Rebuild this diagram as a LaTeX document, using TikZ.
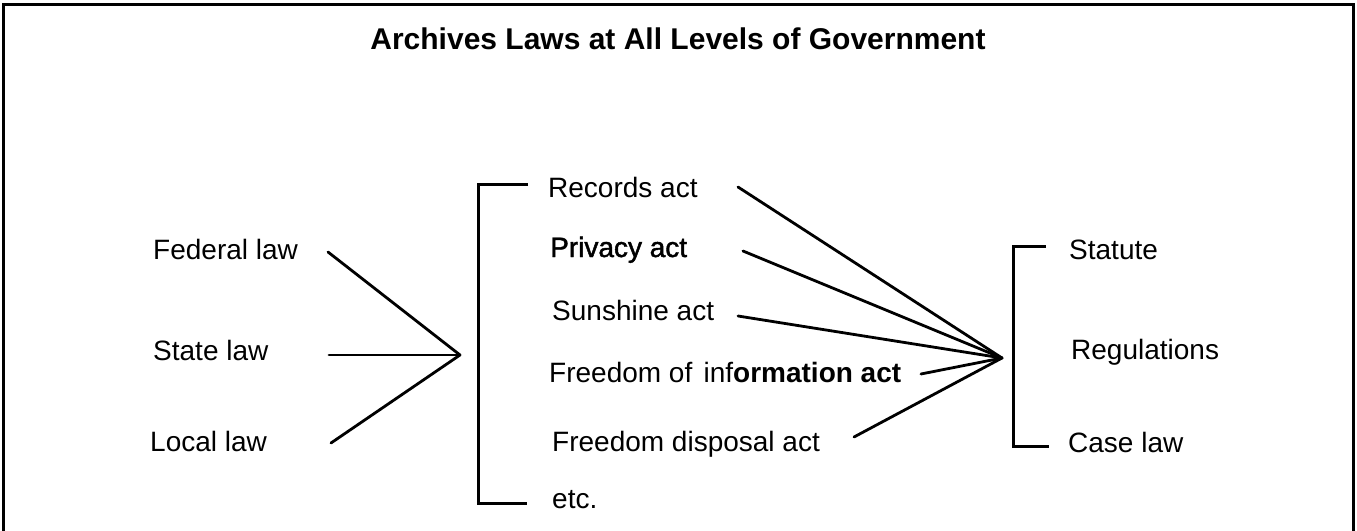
\documentclass[tikz,border=0pt]{standalone}
\usepackage{fontspec}
\setmainfont{Liberation Sans}
\newfontface\embold[FakeBold=1.6]{Liberation Sans}
\begin{document}
\begin{tikzpicture}[x=1pt,y=-1pt,
  lbl/.style={anchor=base west,inner sep=0pt,font=\fontsize{28}{32}\selectfont},
  ttl/.style={anchor=base,inner sep=0pt,font=\fontsize{30}{34}\selectfont\bfseries},
  fan/.style={line width=2.8pt,line cap=round},
  brk/.style={line width=3pt},
  frm/.style={line width=3pt}]
\useasboundingbox (0,0) rectangle (1357,530);
% frame
\draw[frm] (3,531) -- (3,4) -- (1353,4) -- (1353,531);
% title
\node[ttl] (title) at (678,49) {Archives Laws at All Levels of Government};
% left column
\node[lbl] (fed) at (153,259) {Federal law};
\node[lbl] (state) at (153,360) {State law};
\node[lbl] (local) at (150,451) {Local law};
% middle column
\node[lbl] (rec) at (548,197) {Records act};
\node[lbl,font=\fontsize{28}{32}\embold] (priv) at (550,257) {Privacy act};
\node[lbl] (sun) at (552,320) {Sunshine act};
\node[lbl] (foi) at (549,382) {Freedom of\hspace{0.4em}inf\textbf{ormation act}};
\node[lbl] (disp) at (552,451) {Freedom disposal act};
\node[lbl] (etc) at (552,508) {etc.};
% right column
\node[lbl] (stat) at (1069,259) {Statute};
\node[lbl] (reg) at (1071,359) {Regulations};
\node[lbl] (case) at (1068,452) {Case law};
% hubs and line starts
\coordinate (hubL) at (460,355);
\coordinate (hubR) at (1002,358);
\coordinate (fedS) at (328,252);
\coordinate (stateS) at (329,355);
\coordinate (localS) at (331,443);
\coordinate (recS) at (738,187);
\coordinate (privS) at (743,251);
\coordinate (sunS) at (738,316);
\coordinate (foiS) at (921,374);
\coordinate (dispS) at (854,437);
% left fan
\draw[fan] (fedS) -- (hubL);
\draw[fan] (stateS) -- (hubL);
\draw[fan] (localS) -- (hubL);
% right fan
\draw[fan] (recS) -- (hubR);
\draw[fan] (privS) -- (hubR);
\draw[fan] (sunS) -- (hubR);
\draw[fan] (foiS) -- (hubR);
\draw[fan] (dispS) -- (hubR);
% brackets
\draw[brk] (528,184) -- (478,184) -- (478,503) -- (527,503);
\draw[brk] (1046,246) -- (1013,246) -- (1013,446) -- (1049,446);
\end{tikzpicture}
\end{document}
